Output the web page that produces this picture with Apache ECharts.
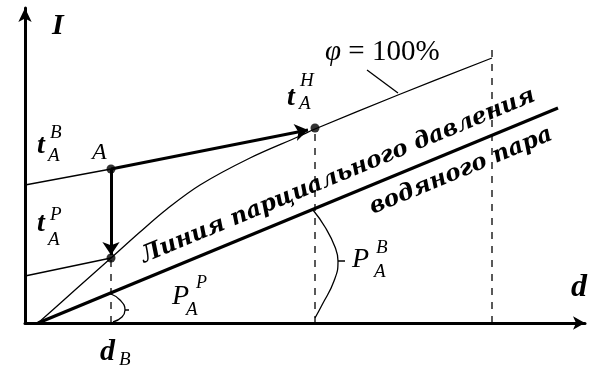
<!DOCTYPE html>
<html>
<head>
<meta charset="utf-8">
<script src="https://cdn.jsdelivr.net/npm/echarts@6/dist/echarts.min.js"></script>
<style>
html,body{margin:0;padding:0;background:#fff;}
#chart{width:589px;height:368px;}
</style>
</head>
<body>
<div id="chart"></div>
<script>
// кривая phi = 100% (d, I)
let phiD = [13, 50, 86, 115, 142, 175, 225, 275, 290, 373, 467]
let phiI = [0, 33, 65, 91, 114, 138, 165, 187, 194, 228, 265]
// линия парциального давления водяного пара
let pressD = [13, 533]
let pressI = [0, 215]
// изотермы t_A^B и t_A^P
let tBD = [0, 86]
let tBI = [138, 154]
let tPD = [0, 86]
let tPI = [47, 65]
// точки A, t_A^H, t_A^P
let pointD = [86, 290, 86]
let pointI = [154, 195, 65]
// пунктирные вертикали
let dashD = [86, 290, 467]
let dashTop = [65, 195, 275]
// скобки P_A^B и P_A^P
let braceBD = [288, 300, 310, 313, 309, 297, 290]
let braceBI = [113, 96, 76, 62, 42, 18, 5]
let bracePD = [86, 95, 100, 97, 88]
let bracePI = [29, 23, 13, 6, 1]
let leaderD = [342, 373]
let leaderI = [253, 230]

function pairs(xs, ys){
    let out = []
    for (let i in xs){
        out.push([xs[i], ys[i]])
    }
    return out
}

let thin = {color:'#000', width:1.3}
function plain(data, style, smooth){
    return {
        type:'line', data:data, symbol:'none', smooth:smooth || false,
        lineStyle:style, silent:true, z:3
    }
}

let series = [
    plain(pairs(phiD, phiI), thin, 0.35),
    plain(pairs(pressD, pressI), {color:'#000', width:3.2}),
    plain(pairs(tBD, tBI), thin),
    plain(pairs(tPD, tPI), thin),
    plain(pairs(braceBD, braceBI), thin, 0.5),
    plain(pairs(bracePD, bracePI), thin, 0.5),
    plain(pairs(leaderD, leaderI), thin),
    plain([[313,62],[320,62]], thin),
    plain([[100,13],[104,13]], thin)
]
for (let i in dashD){
    series.push(plain([[dashD[i], 0], [dashD[i], dashTop[i]]],
        {color:'#000', width:1.3, type:[7,7]}))
}
series.push({
    type:'lines', coordinateSystem:'cartesian2d', silent:true, z:4,
    symbol:['none','arrow'], symbolSize:13,
    lineStyle:{color:'#000', width:3, opacity:1},
    data:[
        {coords:[[pointD[0], pointI[0]], [283, 193]]},
        {coords:[[pointD[0], pointI[0]], [pointD[2], 68]]}
    ]
})
series.push({
    type:'scatter', data:pairs(pointD, pointI), symbolSize:9, silent:true, z:5,
    itemStyle:{color:'#000'}
})

function txt(text, x, y, size, italic, bold, extra){
    return Object.assign({
        type:'text', x:x, y:y, silent:true, z:10,
        style:{text:text, fontFamily:'Liberation Serif', fontSize:size,
            fontStyle:italic ? 'italic' : 'normal', fontWeight:bold ? 'bold' : 'normal',
            fill:'#000', textAlign:'left', textVerticalAlign:'middle'}
    }, extra || {})
}
function rotated(text, x, y, size){
    return {
        type:'text', x:x, y:y, silent:true, z:10, rotation:22.5 * Math.PI / 180,
        style:{text:text, fontFamily:'DejaVu Serif', fontSize:size,
            fontStyle:'italic', fontWeight:'bold', fill:'#000',
            textAlign:'center', textVerticalAlign:'middle'}
    }
}

let graphics = [
    txt('I', 52, 26, 30, true, true),
    txt('t', 37, 146, 28, true, true), txt('B', 50, 133, 19, true), txt('A', 48, 156, 19, true),
    txt('t', 37, 224, 28, true, true), txt('P', 50, 215, 19, true), txt('A', 48, 240, 19, true),
    txt('t', 287, 98, 28, true, true), txt('H', 300, 81, 19, true), txt('A', 299, 104, 19, true),
    txt('A', 92, 153, 24, true),
    txt('d', 571, 288, 32, true, true),
    txt('d', 100, 352, 30, true, true), txt('B', 119, 360, 19, true),
    txt('P', 172, 297, 28, true), txt('P', 196, 283, 18, true), txt('A', 186, 310, 19, true),
    txt('P', 352, 260, 28, true), txt('B', 376, 248, 19, true), txt('A', 374, 272, 19, true),
    {
        type:'text', x:325, y:52, silent:true, z:10,
        style:{text:'{p|φ} = 100%', fontFamily:'Liberation Serif', fontSize:29, fill:'#000',
            textAlign:'left', textVerticalAlign:'middle',
            rich:{p:{fontFamily:'Liberation Serif', fontSize:29, fontStyle:'italic'}}}
    },
    rotated('Линия парциального давления', 338, 176, 23),
    rotated('водяного пара', 461, 171, 23)
]

let charts = echarts.init(document.getElementById('chart'))
let config = {
    animation:false,
    backgroundColor:'#fff',
    grid:{left:25, right:4, top:8, bottom:45},
    xAxis:{
        type:'value', min:0, max:560,
        axisLine:{show:true, lineStyle:{color:'#000', width:3}, symbol:['none','arrow'], symbolSize:[10,12]},
        axisTick:{show:false}, axisLabel:{show:false}, splitLine:{show:false}
    },
    yAxis:{
        type:'value', min:0, max:315,
        axisLine:{show:true, lineStyle:{color:'#000', width:3}, symbol:['none','arrow'], symbolSize:[10,14]},
        axisTick:{show:false}, axisLabel:{show:false}, splitLine:{show:false}
    },
    series:series,
    graphic:graphics
}
config && charts.setOption(config)
</script>
</body>
</html>
